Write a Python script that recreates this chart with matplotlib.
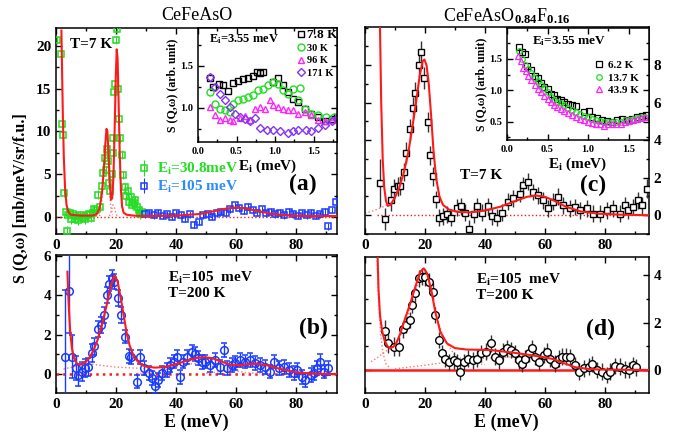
import matplotlib
matplotlib.use('Agg')
import matplotlib.pyplot as plt
from matplotlib.ticker import MultipleLocator, FixedLocator

plt.rcParams['font.family'] = ['Liberation Serif', 'DejaVu Serif']
plt.rcParams['font.weight'] = 'bold'
plt.rcParams['axes.labelweight'] = 'bold'
plt.rcParams['mathtext.fontset'] = 'custom'
plt.rcParams['mathtext.rm'] = 'Liberation Serif:bold'
plt.rcParams['mathtext.bf'] = 'Liberation Serif:bold'
plt.rcParams['mathtext.it'] = 'Liberation Serif:italic:bold'
plt.rcParams['mathtext.sf'] = 'Liberation Serif'

# ---------------- data: panel (a) CeFeAsO, T=7K ----------------
ga_E = [0.3, 1.7, 1.9, 2.2, 2.8, 3.3, 3.6, 4.0, 4.5, 5.0, 5.6, 6.2, 6.8, 7.4, 8.0, 8.6, 9.2, 9.8, 10.4, 11.0,
        11.6, 12.2, 12.8, 13.4, 14.1, 14.7, 15.2, 15.8, 16.3, 16.6, 16.9, 17.3, 17.7, 18.0, 18.5, 18.8, 19.1,
        19.4, 19.7, 20.0, 20.2, 20.6, 21.0, 21.3, 21.9, 22.4, 22.9, 23.4, 23.9, 24.4, 24.9, 25.4, 25.9, 26.4,
        26.9, 27.5, 28.0, 28.6]
ga_S = [20.7, 19.0, 10.9, 9.6, 2.8, 0.6, -1.6, 0.2, 0.5, -0.3, 0.3, -0.2, 0.1, -0.4, 0.2, -0.1, 0.0, -0.3, 0.2,
        0.3, -0.1, 0.5, 0.9, 0.8, 2.6, 1.2, 3.6, 5.1, 6.9, 5.5, 7.9, 6.5, 4.0, 3.0, 5.0, 7.5, 9.2, 14.6, 15.5,
        20.7, 22.0, 15.0, 11.5, 9.2, 7.3, 4.9, 3.5, 2.5, 3.0, 1.8, 2.3, 1.4, 1.6, 2.0, 1.2, 0.8, 0.3, 0.6]
ba_E = [29.5, 31, 32.5, 34, 35.5, 37, 38.5, 40, 41.5, 43, 44.5, 46, 47.5, 49, 50.5, 52, 53.5, 55, 56.5, 58,
        59.5, 61, 62.5, 64, 65.5, 67, 68.5, 70, 71.5, 73, 74.5, 76, 77.5, 79, 80.5, 82, 83.5, 85, 86.5, 88,
        89.5, 90.5, 92, 93.2]
ba_S = [0.3, 0.4, 0.2, 0.5, 0.1, 0.3, 0.0, 0.4, 0.2, -0.2, 0.3, -0.9, -0.6, 0.2, 0.3, 0.0, 0.4, 0.6, 0.5, 0.9,
        1.4, 1.0, 0.7, 1.2, 0.8, 0.5, 0.9, 0.4, 0.6, 0.3, 0.5, 0.2, 0.6, 0.3, 0.1, 0.4, 0.2, 0.5, 0.1, 0.3,
        0.6, -1.1, 0.8, 1.8]
fa_E = [1.8, 2.0, 2.3, 2.6, 3.0, 3.5, 4.2, 5, 8, 12, 13.5, 14.5, 15.3, 15.9, 16.4, 16.8, 17.1, 17.5, 17.9,
        18.3, 18.7, 19.1, 19.5, 19.9, 20.2, 20.5, 20.8, 21.2, 21.6, 22.0, 22.5, 23.5, 26, 30, 40, 48, 53, 57,
        60, 63, 67, 72, 78, 85, 93.5]
fa_S = [21.8, 17.5, 11.5, 7.0, 3.5, 1.4, 0.5, 0.25, 0.15, 0.15, 0.3, 1.0, 2.8, 5.5, 8.5, 10.3, 10.0, 7.5, 4.0,
        2.0, 2.2, 4.5, 10.0, 16.5, 19.6, 18.5, 14.0, 7.5, 3.2, 1.2, 0.5, 0.25, 0.15, 0.1, 0.15, 0.35, 0.7,
        1.0, 1.1, 1.0, 0.7, 0.35, 0.15, 0.1, 0.1]
da1_E = [14.5, 15.2, 15.8, 16.3, 16.7, 17.1, 17.6, 18.2, 18.8]
da1_S = [0.1, 1.5, 4.5, 7.0, 7.9, 7.0, 4.0, 1.2, 0.2]
da2_E = [17.8, 18.4, 18.9, 19.3, 19.8, 20.3]
da2_S = [0.1, 0.7, 1.4, 1.3, 0.6, 0.1]

# inset (a): Ei = 3.55 meV
ia_E78 = [0.15, 0.20, 0.27, 0.33, 0.39, 0.46, 0.52, 0.59, 0.65, 0.72, 0.76, 0.81, 0.85, 0.98, 1.04, 1.10, 1.17,
          1.23, 1.30, 1.39, 1.47, 1.56, 1.65, 1.74, 1.80]
ia_S78 = [1.35, 1.25, 1.29, 1.27, 1.20, 1.30, 1.32, 1.34, 1.36, 1.38, 1.43, 1.41, 1.43, 1.31, 1.35, 1.27, 1.19,
          1.11, 1.07, 0.99, 0.93, 0.89, 0.85, 0.87, 0.89]
ia_E30 = [0.15, 0.22, 0.29, 0.35, 0.42, 0.46, 0.52, 0.59, 0.65, 0.72, 0.78, 0.85, 0.91, 0.98, 1.04, 1.10, 1.17,
          1.23, 1.30, 1.33, 1.39, 1.47, 1.56, 1.66, 1.77]
ia_S30 = [1.19, 1.05, 0.99, 0.97, 0.95, 1.05, 1.09, 1.11, 1.13, 1.15, 1.21, 1.23, 1.27, 1.31, 1.29, 1.21, 1.17,
          1.23, 1.09, 1.24, 0.99, 0.93, 0.91, 0.89, 0.89]
ia_E96 = [0.15, 0.22, 0.29, 0.35, 0.42, 0.46, 0.55, 0.61, 0.68, 0.74, 0.81, 0.87, 0.94, 0.98, 1.04, 1.10, 1.17,
          1.23, 1.30, 1.39, 1.47, 1.56, 1.65, 1.74, 1.80]
ia_S96 = [1.01, 0.92, 0.86, 0.88, 0.86, 0.84, 0.88, 0.90, 0.86, 0.99, 1.01, 0.99, 1.09, 1.03, 1.01, 0.99, 0.97,
          0.97, 0.93, 0.95, 0.91, 0.86, 0.84, 0.86, 0.90]
ia_E171 = [0.15, 0.22, 0.29, 0.35, 0.42, 0.48, 0.55, 0.61, 0.68, 0.74, 0.81, 0.89, 0.98, 1.07, 1.17, 1.23, 1.30,
           1.40, 1.47, 1.56, 1.65, 1.74, 1.80]
ia_S171 = [1.37, 1.25, 1.17, 1.09, 1.01, 0.93, 0.89, 0.87, 0.84, 0.88, 0.76, 0.74, 0.74, 0.72, 0.70, 0.72, 0.74,
           0.74, 0.72, 0.76, 0.80, 0.84, 0.88]

# ---------------- panel (b) CeFeAsO, T=200K ----------------
b_E = [3.0, 4.3, 5.4, 6.6, 7.4, 8.6, 9.7, 10.8, 11.9, 12.8, 13.9, 15.0, 16.1, 16.9, 17.7, 18.6, 19.4, 20.5,
       21.7, 23.0, 24.3, 24.9, 26.9, 28.0, 29.4, 30.8, 31.9, 33.0, 34.1, 35.2, 36.9, 38.0, 39.1, 40.2, 41.3,
       42.4, 43.6, 45.2, 46.3, 47.4, 48.6, 49.7, 51.3, 53.0, 54.7, 55.8, 56.9, 58.6, 59.7, 61.3, 63.0, 64.7,
       66.3, 68.0, 69.7, 71.3, 72.4, 74.1, 75.8, 77.4, 79.1, 80.2, 81.9, 83.0, 84.7, 85.8, 86.9, 88.0, 89.1,
       90.6]
b_S = [0.88, 4.2, 0.88, 0.3, -0.05, 0.12, 0.3, 0.37, 1.05, 1.4, 2.3, 2.5, 3.0, 4.0, 4.6, 4.9, 4.7, 3.85, 3.0,
       1.9, 0.9, 0.88, -0.39, 0.88, 0.3, 0.03, -0.2, -0.6, -0.3, 0.03, 0.2, 0.46, 0.63, 0.88, -0.17, 0.63, 0.88,
       1.1, 1.0, 0.8, 0.6, 0.63, 0.46, 0.71, 0.37, 1.22, 0.29, 0.46, 0.54, 0.71, 0.63, 0.71, 0.54, 0.46, 0.37,
       0.12, 0.63, 0.29, 0.37, 0.2, 0.03, 0.2, -0.14, -0.3, -0.05, 0.03, 0.29, 0.63, 0.12, 0.29]
b_err = [3.4, 2.1, 1.1, 0.6, 0.55, 0.5, 0.45, 0.45, 0.45, 0.45, 0.4, 0.4, 0.4, 0.4, 0.4, 0.4, 0.4, 0.4, 0.4,
         0.35, 0.35, 0.35, 0.35, 0.35, 0.35, 0.35, 0.35, 0.35, 0.35, 0.35, 0.35, 0.35, 0.35, 0.35, 0.35, 0.35,
         0.35, 0.35, 0.35, 0.35, 0.35, 0.35, 0.35, 0.35, 0.35, 0.35, 0.35, 0.35, 0.35, 0.35, 0.35, 0.35, 0.35,
         0.35, 0.35, 0.35, 0.35, 0.35, 0.35, 0.35, 0.35, 0.35, 0.35, 0.35, 0.35, 0.35, 0.35, 0.4, 0.35, 0.35]
fb_E = [3.8, 4.2, 4.7, 5.3, 6.0, 7.0, 8.0, 9.5, 11, 12.5, 14, 15.5, 17, 18.3, 19.5, 20.5, 21.5, 22.5, 23.5,
        24.5, 26, 28, 30, 33, 36, 40, 44, 47, 49.5, 52, 55, 58, 61, 64, 67, 70, 73, 76, 80, 85, 90, 93.5]
fb_S = [5.2, 3.6, 2.2, 1.3, 0.8, 0.52, 0.47, 0.55, 0.8, 1.2, 1.8, 2.6, 3.6, 4.5, 5.0, 4.7, 3.9, 3.0, 2.1, 1.45,
        0.85, 0.5, 0.37, 0.32, 0.35, 0.5, 0.7, 0.82, 0.85, 0.8, 0.63, 0.47, 0.45, 0.5, 0.52, 0.45, 0.32, 0.2,
        0.08, 0.02, 0.0, 0.0]
db0_E = [2.5, 5, 8, 10, 14, 20, 26, 30]
db0_S = [0.25, 0.33, 0.45, 0.55, 0.45, 0.35, 0.3, 0.28]
db1_E = [28, 33, 38, 43, 48, 53, 58, 63, 68]
db1_S = [0.02, 0.1, 0.28, 0.48, 0.55, 0.45, 0.22, 0.07, 0.02]
db2_E = [50, 55, 60, 64, 67, 71, 76, 82, 88]
db2_S = [0.03, 0.12, 0.3, 0.43, 0.45, 0.35, 0.15, 0.03, 0.0]

# ---------------- panel (c) CeFeAsO0.84F0.16, T=7K ----------------
c_E = [5.1, 6.8, 8.8, 9.8, 10.9, 11.8, 12.9, 13.8, 15.1, 15.9, 16.8, 17.9, 18.8, 19.8, 20.9, 21.8, 22.6, 23.7,
       24.8, 25.9, 27.3, 28.8, 30.7, 32.1, 33.4, 34.8, 36.2, 37.3, 39.0, 41.0, 42.3, 44.0, 45.7, 47.8, 49.4,
       51.7, 52.8, 54.4, 56.1, 57.8, 59.4, 61.1, 62.8, 64.4, 66.1, 68.3, 70.0, 71.7, 73.9, 76.1, 78.3, 80.6,
       82.8, 85.0, 86.7, 87.8, 89.4, 91.1, 92.2, 93.9]
c_S = [1.72, -0.2, 0.79, 1.4, 1.55, 1.58, 2.3, 3.33, 4.57, 5.72, 6.5, 7.98, 8.7, 7.3, 4.96, 3.2, 2.08, 0.84,
       -0.14, -0.05, 0.04, -0.14, 0.4, 0.48, 0.13, -0.73, 0.04, 0.48, 0.13, 0.48, -0.05, -0.14, 0.13, 0.71,
       0.9, 1.15, 1.6, 1.78, 1.24, 1.07, 0.8, 0.36, 0.71, 0.98, 0.53, 0.36, 0.44, 0.27, 0.36, 0.09, 0.09, 0.27,
       0.36, 0.09, 0.53, 0.27, 0.44, 0.8, 0.53, 1.42]
c_err = [1.3, 0.6, 0.55, 0.55, 0.5, 0.5, 0.5, 0.55, 0.55, 0.6, 0.6, 0.6, 0.6, 0.6, 0.55, 0.5, 0.5, 0.45, 0.45,
         0.45, 0.45, 0.45, 0.45, 0.45, 0.45, 0.45, 0.45, 0.45, 0.45, 0.45, 0.45, 0.45, 0.45, 0.45, 0.45, 0.45,
         0.45, 0.45, 0.45, 0.45, 0.45, 0.45, 0.45, 0.45, 0.45, 0.45, 0.45, 0.45, 0.45, 0.45, 0.45, 0.45, 0.45,
         0.45, 0.45, 0.45, 0.45, 0.45, 0.45, 0.5]
fc_E = [5.0, 5.4, 5.9, 6.4, 7.0, 7.6, 8.5, 10, 11.5, 13, 14.5, 15.8, 17, 18.2, 19.2, 19.8, 20.5, 21.2, 22, 22.8,
        23.7, 24.8, 26, 28, 31, 35, 40, 45, 50, 54, 57, 60, 63, 67, 72, 78, 85, 94.5]
fc_S = [10.0, 6.0, 3.0, 1.5, 0.75, 0.5, 0.55, 0.95, 1.5, 2.3, 3.4, 4.7, 6.0, 7.4, 8.2, 8.3, 8.0, 7.1, 5.4, 3.5,
        2.0, 1.0, 0.55, 0.3, 0.18, 0.15, 0.25, 0.45, 0.75, 0.98, 1.05, 0.98, 0.78, 0.45, 0.2, 0.08, 0.03, 0.0]
dc_E = [0, 3, 6, 8]
dc_S = [0.1, 0.25, 0.45, 0.6]

# inset (c)
ic_E62 = [0.15, 0.19, 0.22, 0.25, 0.29, 0.34, 0.38, 0.42, 0.46, 0.50, 0.54, 0.58, 0.62, 0.66, 0.70, 0.75, 0.80,
          0.85, 0.95, 1.01, 1.05, 1.11, 1.17, 1.23, 1.29, 1.36, 1.42, 1.48, 1.54, 1.60, 1.67, 1.72]
ic_S62 = [1.69, 1.61, 1.57, 1.38, 1.32, 1.23, 1.19, 1.12, 1.06, 1.02, 0.94, 0.92, 0.86, 0.84, 0.81, 0.79, 0.76,
          0.75, 0.65, 0.67, 0.58, 0.56, 0.53, 0.51, 0.50, 0.52, 0.54, 0.52, 0.55, 0.58, 0.59, 0.60]
ic_E137 = [0.15, 0.19, 0.22, 0.26, 0.30, 0.34, 0.38, 0.42, 0.46, 0.50, 0.54, 0.58, 0.62, 0.66, 0.70, 0.75, 0.80,
           0.85, 0.90, 0.95, 1.00, 1.05, 1.10, 1.15, 1.20, 1.25, 1.30, 1.35, 1.40, 1.45, 1.50, 1.55, 1.60, 1.65,
           1.70]
ic_S137 = [1.62, 1.50, 1.40, 1.34, 1.27, 1.20, 1.14, 1.08, 1.03, 0.97, 0.90, 0.85, 0.82, 0.80, 0.77, 0.72, 0.69,
           0.66, 0.62, 0.59, 0.57, 0.55, 0.52, 0.51, 0.50, 0.49, 0.50, 0.49, 0.50, 0.52, 0.53, 0.55, 0.56, 0.57,
           0.58]
ic_E439 = [0.14, 0.17, 0.20, 0.23, 0.26, 0.30, 0.34, 0.38, 0.42, 0.46, 0.50, 0.54, 0.58, 0.62, 0.66, 0.70, 0.75,
           0.80, 0.85, 0.90, 0.95, 1.00, 1.05, 1.10, 1.15, 1.20, 1.25, 1.30, 1.35, 1.40, 1.45, 1.50, 1.55, 1.60,
           1.65, 1.70]
ic_S439 = [1.55, 1.47, 1.36, 1.30, 1.22, 1.16, 1.08, 1.02, 0.97, 0.91, 0.86, 0.81, 0.77, 0.73, 0.70, 0.67, 0.64,
           0.61, 0.58, 0.55, 0.53, 0.50, 0.48, 0.47, 0.46, 0.43, 0.46, 0.47, 0.46, 0.47, 0.50, 0.51, 0.53, 0.55,
           0.56, 0.57]

# ---------------- panel (d) CeFeAsO0.84F0.16, T=200K ----------------
d_E = [6.6, 7.7, 9.6, 11.4, 12.6, 13.7, 15.1, 15.7, 16.8, 17.9, 19.0, 20.1, 21.2, 22.6, 23.4, 24.6, 25.7, 26.8,
       28.1, 29.6, 30.7, 31.8, 32.9, 34.3, 35.9, 37.3, 38.8, 40.3, 42.1, 43.4, 44.8, 45.9, 47.3, 48.8, 49.9,
       51.2, 52.3, 53.4, 54.6, 55.7, 56.8, 57.9, 59.6, 60.7, 61.8, 63.2, 64.6, 65.7, 67.0, 68.4, 70.1, 71.2,
       72.9, 74.6, 75.7, 77.3, 79.0, 80.7, 81.8, 83.4, 85.1, 86.8, 88.1, 89.2, 90.3]
d_S = [1.64, 1.12, 0.98, 0.98, 1.71, 1.9, 2.1, 2.74, 3.23, 3.86, 3.93, 3.9, 3.72, 3.3, 2.32, 1.26, 0.7, 0.48,
       0.34, 0.41, 0.34, -0.07, 0.34, 0.48, 0.41, 0.48, 0.7, 0.77, 1.12, 0.56, 0.41, 0.77, 0.91, 0.84, 0.7, 0.41,
       0.27, 0.48, 0.7, 0.91, 0.56, 0.34, 0.63, 0.77, 0.48, 0.27, 0.48, 0.56, 0.56, 0.53, 0.21, -0.07, 0.07,
       0.14, 0.25, 0.0, -0.07, -0.21, -0.07, 0.17, 0.14, 0.03, 0.0, 0.21, 0.11]
d_err = [0.45, 0.4, 0.4, 0.4, 0.35, 0.35, 0.35, 0.35, 0.35, 0.35, 0.35, 0.35, 0.35, 0.35, 0.35, 0.35, 0.35,
         0.35, 0.35, 0.35, 0.35, 0.35, 0.35, 0.35, 0.35, 0.35, 0.35, 0.35, 0.35, 0.35, 0.35, 0.35, 0.35, 0.35,
         0.35, 0.35, 0.35, 0.35, 0.35, 0.35, 0.35, 0.35, 0.35, 0.35, 0.35, 0.35, 0.35, 0.35, 0.35, 0.35, 0.35,
         0.35, 0.35, 0.35, 0.35, 0.35, 0.35, 0.35, 0.35, 0.35, 0.35, 0.35, 0.35, 0.35, 0.35]
fd_E = [4.2, 4.5, 5.0, 5.7, 6.5, 7.5, 8.4, 9.5, 10.5, 11.8, 13.4, 15.1, 16.8, 18.4, 19.6, 20.7, 22.1, 23.4, 25.1,
        27.3, 30, 34, 38, 42, 46, 50, 55, 60, 63, 66, 70, 74, 78, 85, 94.5]
fd_S = [4.76, 3.4, 2.3, 1.65, 1.25, 1.0, 0.92, 0.98, 1.15, 1.55, 2.18, 2.81, 3.51, 4.14, 4.28, 4.07, 3.37, 2.46,
        1.61, 1.12, 0.92, 0.86, 0.85, 0.84, 0.78, 0.72, 0.63, 0.53, 0.45, 0.3, 0.12, 0.05, 0.02, 0.01, 0.0]
dd0_E = [4.0, 4.5, 5.2, 6.0, 7.0, 8.5]
dd0_S = [4.76, 3.0, 1.5, 0.7, 0.25, 0.05]
dd1_E = [2, 4, 6, 8, 10, 12, 14, 16, 18, 19.6, 21, 22.5, 24, 26, 30, 35, 40]
dd1_S = [0.35, 0.5, 0.7, 0.88, 1.1, 1.5, 2.15, 3.0, 3.8, 4.1, 3.85, 3.05, 2.2, 1.4, 0.6, 0.32, 0.22]
dd2_E = [10, 20, 30, 40, 48, 55, 62, 68, 75, 85]
dd2_S = [0.05, 0.2, 0.38, 0.5, 0.55, 0.5, 0.38, 0.22, 0.08, 0.01]

c_yticks = [0, 2, 4, 6, 8]

GREEN = '#22dd22'
BLUE = '#1a3cff'
RED = '#ff1a1a'
PINK = '#ff7777'

fig = plt.figure(figsize=(6.78, 4.32), dpi=100)
W, H = 678.0, 432.0


def box(l, t, r, b):
    return [l / W, 1 - b / H, (r - l) / W, (b - t) / H]


def style(ax, xmaj, xmin, ymaj, ymin, fs=10):
    ax.xaxis.set_major_locator(MultipleLocator(xmaj))
    ax.xaxis.set_minor_locator(MultipleLocator(xmin))
    ax.yaxis.set_major_locator(MultipleLocator(ymaj))
    ax.yaxis.set_minor_locator(MultipleLocator(ymin))
    ax.tick_params(which='both', direction='in', top=True, right=True, labelsize=fs, width=1)
    ax.tick_params(which='major', length=4)
    ax.tick_params(which='minor', length=2)
    for s in ax.spines.values():
        s.set_linewidth(1.1)


# ---- (a)
ax_a = fig.add_axes(box(56, 28, 337, 234))
ax_a.plot([0, 93.5], [0, 0], color=RED, lw=1.0, ls=':')
ax_a.plot(da1_E, da1_S, color=PINK, lw=1.0, ls=':')
ax_a.plot(da2_E, da2_S, color=PINK, lw=1.0, ls=':')
ax_a.errorbar(ga_E, ga_S, yerr=0.5, fmt='s', ms=5, mfc='none', mec=GREEN, mew=1.1, ecolor=GREEN, elinewidth=0.8,
              label='E$_\\mathrm{i}$=30.8meV', zorder=3)
ax_a.errorbar(ba_E, ba_S, yerr=0.4, fmt='s', ms=5, mfc='none', mec=BLUE, mew=1.1, ecolor=BLUE, elinewidth=0.8,
              label='E$_\\mathrm{i}$=105 meV', zorder=3)
ax_a.plot(fa_E, fa_S, color=RED, lw=1.5, zorder=4)
ax_a.set_xlim(0, 93.5)
ax_a.set_ylim(-2, 22.1)
style(ax_a, 20, 10, 5, 2.5, fs=11)
leg = ax_a.legend(loc='upper left', bbox_to_anchor=(0.23, 0.42), frameon=False, fontsize=11, handletextpad=0.3,
                  labelspacing=0.1, handlelength=1.2)
for t, c in zip(leg.get_texts(), [GREEN, '#2a8cff']):
    t.set_color(c)
ax_a.text(0.05, 0.92, 'T=7 K', transform=ax_a.transAxes, fontsize=11, va='center')
ax_a.text(0.83, 0.24, '(a)', transform=ax_a.transAxes, fontsize=17, va='center')
ax_a.set_title('CeFeAsO', fontsize=13, fontweight='normal', pad=6)

# ---- inset (a)
ia = fig.add_axes(box(198, 28, 337, 142))
ia.plot(ia_E78, ia_S78, 's', ms=5, mfc='none', mec='black', mew=1, label='7.8 K')
ia.plot(ia_E30, ia_S30, 'o', ms=5, mfc='none', mec=GREEN, mew=1, label='30 K')
ia.plot(ia_E96, ia_S96, '^', ms=5, mfc='none', mec='#ff22ff', mew=1, label='96 K')
ia.plot(ia_E171, ia_S171, 'D', ms=4.5, mfc='none', mec='#8833ee', mew=1, label='171 K')
ia.set_xlim(0, 1.805)
ia.set_ylim(0.595, 1.95)
style(ia, 0.5, 0.25, 0.5, 0.25, fs=7.5)
ia.set_xlabel('E$_\\mathrm{i}$ (meV)', fontsize=11, labelpad=1)
ia.set_ylabel('S (Q,ω) (arb. unit)', fontsize=8.5, labelpad=1)
ia.text(0.08, 0.9, 'E$_\\mathrm{i}$=3.55 meV', transform=ia.transAxes, fontsize=9, va='center')
lg = ia.legend(loc='upper right', bbox_to_anchor=(1.05, 1.05), frameon=False, fontsize=7.5, handletextpad=0.2,
               labelspacing=0.3, handlelength=0.9, borderaxespad=0.2)
lg.get_texts()[0].set_fontsize(9.5)

# ---- (b)
ax_b = fig.add_axes(box(56, 255, 337, 393))
ax_b.plot([0, 93.5], [0, 0], color=RED, lw=1.8, ls=':')
ax_b.plot(db0_E, db0_S, color=PINK, lw=1.0, ls=':')
ax_b.plot(db1_E, db1_S, color=PINK, lw=1.0, ls=':')
ax_b.plot(db2_E, db2_S, color=PINK, lw=1.0, ls=':')
ax_b.errorbar(b_E, b_S, yerr=b_err, fmt='o', ms=5.5, mfc='none', mec=BLUE, mew=1.1, ecolor=BLUE, elinewidth=1,
              capsize=2, zorder=3)
ax_b.plot(fb_E, fb_S, color=RED, lw=1.5, zorder=4)
ax_b.set_xlim(0, 93.5)
ax_b.set_ylim(-0.97, 6.05)
style(ax_b, 20, 10, 2, 1, fs=11)
ax_b.set_xlabel('E (meV)', fontsize=13, labelpad=2)
ax_b.text(0.4, 0.78, 'E$_\\mathrm{i}$=105  meV\nT=200 K', transform=ax_b.transAxes, fontsize=11, va='center',
          linespacing=1.1)
ax_b.text(0.865, 0.47, '(b)', transform=ax_b.transAxes, fontsize=17, va='center')

# ---- (c)
ax_c = fig.add_axes(box(365, 27, 648.5, 234))
ax_c.plot([4, 94.5], [0, 0], color=RED, lw=1.0, ls=':')
ax_c.plot(dc_E, dc_S, color=PINK, lw=1.0, ls=':')
ax_c.errorbar(c_E, c_S, yerr=c_err, fmt='s', ms=5, mfc='white', mec='black', mew=1, ecolor='#333333',
              elinewidth=1, zorder=3)
ax_c.plot(fc_E, fc_S, color=RED, lw=1.5, zorder=4)
ax_c.set_xlim(0, 94.5)
ax_c.set_ylim(-1.0, 10.03)
style(ax_c, 20, 10, 2, 1, fs=11)
ax_c.yaxis.set_major_locator(FixedLocator(c_yticks))
ax_c.tick_params(labelleft=False, labelright=True)
ax_c.text(0.335, 0.285, 'T=7 K', transform=ax_c.transAxes, fontsize=11, va='center')
ax_c.text(0.76, 0.235, '(c)', transform=ax_c.transAxes, fontsize=17, va='center')
ax_c.set_title('CeFeAsO$_{\\mathsf{0.84}}$F$_{\\mathsf{0.16}}$', fontsize=13, fontweight='normal', pad=4)

# ---- inset (c)
ic = fig.add_axes(box(507, 28, 648.5, 140))
ic.plot(ic_E62, ic_S62, 's', ms=4, mfc='none', mec='black', mew=0.9, label='6.2 K')
ic.plot(ic_E137, ic_S137, 'o', ms=4, mfc='none', mec=GREEN, mew=0.9, label='13.7 K')
ic.plot(ic_E439, ic_S439, '^', ms=4, mfc='none', mec='#ff22ff', mew=0.9, label='43.9 K')
ic.set_xlim(0, 1.745)
ic.set_ylim(0.21, 1.99)
style(ic, 0.5, 0.25, 0.5, 0.25, fs=7.5)
ic.set_xlabel('E$_\\mathrm{i}$ (meV)', fontsize=11, labelpad=1)
ic.set_ylabel('S (Q,ω) (arb. unit)', fontsize=8.5, labelpad=1)
ic.text(0.18, 0.88, 'E$_\\mathrm{i}$=3.55 meV', transform=ic.transAxes, fontsize=9.5, va='center')
ic.legend(loc='upper right', bbox_to_anchor=(1.0, 0.8), frameon=False, fontsize=8, handletextpad=0.3,
          labelspacing=0.25, handlelength=1.0)

# ---- (d)
ax_d = fig.add_axes(box(365, 257, 648.5, 393))
ax_d.plot([0, 94.5], [0, 0], color=RED, lw=1.8)
ax_d.plot(dd0_E, dd0_S, color=PINK, lw=1.0, ls=':')
ax_d.plot(dd1_E, dd1_S, color=PINK, lw=1.0, ls=':')
ax_d.plot(dd2_E, dd2_S, color=PINK, lw=1.0, ls=':')
ax_d.errorbar(d_E, d_S, yerr=d_err, fmt='o', ms=5.5, mfc='white', mec='black', mew=1, ecolor='#333333',
              elinewidth=1, zorder=3)
ax_d.plot(fd_E, fd_S, color=RED, lw=1.5, zorder=4)
ax_d.set_xlim(0, 94.5)
ax_d.set_ylim(-0.97, 4.76)
style(ax_d, 20, 10, 2, 1, fs=11)
ax_d.tick_params(labelleft=False, labelright=True)
ax_d.set_xlabel('E (meV)', fontsize=13, labelpad=2)
ax_d.text(0.39, 0.78, 'E$_\\mathrm{i}$=105  meV\nT=200 K', transform=ax_d.transAxes, fontsize=11, va='center',
          linespacing=1.1)
ax_d.text(0.78, 0.47, '(d)', transform=ax_d.transAxes, fontsize=17, va='center')

fig.text(0.03, 0.541, 'S (Q,ω) [mb/meV/sr/f.u.]', rotation=90, fontsize=11.5, va='center', ha='center')

fig.savefig('out.png', dpi=100)
